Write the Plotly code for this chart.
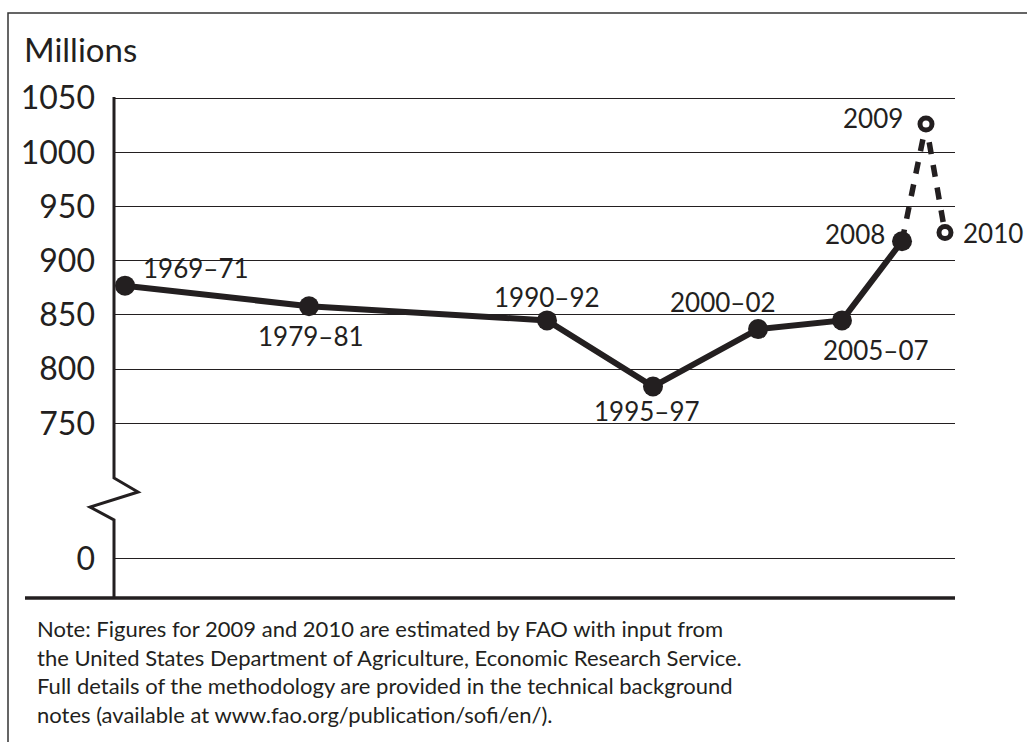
import plotly.graph_objects as go

# ---- data ----
periods = ["1969–71", "1979–81", "1990–92", "1995–97", "2000–02", "2005–07", "2008", "2009", "2010"]
x_pos = [1.31, 23.19, 51.49, 64.09, 76.58, 86.56, 93.70, 96.55, 98.81]   # horizontal placement (axis units 0-100)
undernourished = [877, 858, 845, 784, 837, 845, 918, 1026, 926]          # millions
n_observed = 7   # 1969–71 … 2008 are observed; 2009, 2010 estimated

tick_values = [625, 750, 800, 850, 900, 950, 1000, 1050]
tick_labels = ["0", "750", "800", "850", "900", "950", "1000", "1050"]

note_lines = [
    "Note: Figures for 2009 and 2010 are estimated by FAO with input from",
    "the United States Department of Agriculture, Economic Research Service.",
    "Full details of the methodology are provided in the technical background",
    "notes (available at www.fao.org/publication/sofi/en/).",
]

INK = "#231f20"
FONT = "Lato, 'Open Sans', sans-serif"

fig = go.Figure()

# estimated part (dashed)
fig.add_trace(go.Scatter(
    x=x_pos[n_observed - 1:], y=undernourished[n_observed - 1:],
    mode="lines", line=dict(color=INK, width=5.5, dash="12px,11px"),
    hoverinfo="skip", showlegend=False))
# observed part (solid)
fig.add_trace(go.Scatter(
    x=x_pos[:n_observed], y=undernourished[:n_observed],
    mode="lines+markers", line=dict(color=INK, width=6),
    marker=dict(size=20, color=INK), showlegend=False))
# estimated markers (open)
fig.add_trace(go.Scatter(
    x=x_pos[n_observed:], y=undernourished[n_observed:],
    mode="markers", marker=dict(size=12, color="white", line=dict(color=INK, width=5)),
    showlegend=False))

# point labels: (xanchor, xshift, yshift)
label_style = [
    ("left", 16, 18),
    ("center", 2, -30),
    ("center", 0, 23),
    ("center", -6, -24),
    ("center", -35, 27),
    ("center", 34, -30),
    ("right", -15, 7),
    ("right", -21, 6),
    ("left", 16, 0),
]
for p, xv, yv, (xa, xs, ys) in zip(periods, x_pos, undernourished, label_style):
    fig.add_annotation(x=xv, y=yv, text=p, showarrow=False, xanchor=xa, yanchor="middle",
                       xshift=xs, yshift=ys, font=dict(family=FONT, size=26, color=INK))

# geometry helpers (pixel -> paper fraction)
def px(xp):
    return (xp - 114) / 841
def py(yp):
    return (598 - yp) / 501

# "Millions" axis title
fig.add_annotation(xref="paper", yref="paper", x=px(22), y=py(49),
                   text="Millions", showarrow=False, xanchor="left", yanchor="middle",
                   font=dict(family=FONT, size=33, color=INK))

# note (one text block)
fig.add_annotation(xref="paper", yref="paper", x=px(35), y=py(671),
                   text="<br>".join(note_lines), showarrow=False, align="left",
                   xanchor="left", yanchor="middle",
                   font=dict(family=FONT, size=22, color=INK))

# vertical axis with scale break (zigzag)
axis_path = (f"M {px(114)},{py(97)} L {px(114)},{py(478)} L {px(138)},{py(492)} "
             f"L {px(90)},{py(507)} L {px(114)},{py(520)} L {px(114)},{py(598)}")
fig.add_shape(type="path", xref="paper", yref="paper", path=axis_path,
              line=dict(color=INK, width=3))
# bottom base line
fig.add_shape(type="line", xref="paper", yref="paper", x0=px(25), x1=1, y0=0, y1=0,
              line=dict(color=INK, width=3.5))
# outer frame
fig.add_shape(type="rect", xref="paper", yref="paper", x0=px(8), x1=px(1040),
              y0=py(760), y1=py(13), line=dict(color="#333333", width=1.5))

fig.update_xaxes(range=[0, 100], showgrid=False, zeroline=False, showline=False,
                 showticklabels=False, ticks="")
fig.update_yaxes(range=[589, 1051], tickvals=tick_values, ticktext=tick_labels,
                 showgrid=True, gridcolor=INK, gridwidth=1.3, zeroline=False, showline=False,
                 ticks="", ticklabelstandoff=18,
                 tickfont=dict(family=FONT, size=32, color=INK))

fig.update_layout(
    width=1027, height=742,
    margin=dict(l=114, r=72, t=97, b=144),
    paper_bgcolor="white", plot_bgcolor="white",
    showlegend=False,
)

fig.write_html("out.html")
